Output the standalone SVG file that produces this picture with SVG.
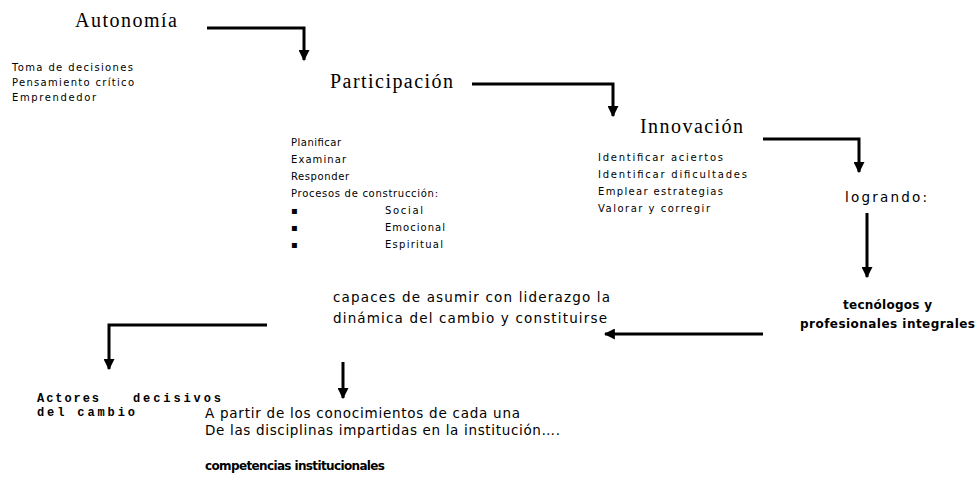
<svg xmlns="http://www.w3.org/2000/svg" width="979" height="490" viewBox="0 0 979 490">
<style>
.h{font-family:"Liberation Serif","Times New Roman",serif;font-size:20px;fill:#000}
.s{font-family:"DejaVu Sans","Noto Sans",sans-serif;font-size:10px;fill:#000}
.m{font-family:"DejaVu Sans","Noto Sans",sans-serif;font-size:13.5px;fill:#000}
.b{font-family:"DejaVu Sans","Noto Sans",sans-serif;font-size:12px;font-weight:bold;fill:#000}
.c{font-family:"Liberation Mono","Courier New",monospace;font-size:12px;font-weight:bold;fill:#000}
.ln{fill:none;stroke:#000;stroke-width:3;marker-end:url(#ah)}
</style>
<defs>
<marker id="ah" viewBox="0 0 10 10" refX="9" refY="5" markerWidth="11" markerHeight="11" markerUnits="userSpaceOnUse" orient="auto">
<path d="M0,0 L10,5 L0,10 z" fill="#000"/>
</marker>
</defs>
<rect width="979" height="490" fill="#fff"/>
<g id="connectors">
<path class="ln" d="M207,28 H304 V60"/>
<path class="ln" d="M472,84 H613 V116"/>
<path class="ln" d="M763,139 H859 V172"/>
<path class="ln" d="M867,213 V277"/>
<path class="ln" d="M763,334 H605"/>
<path class="ln" d="M267,325 H109 V369"/>
<path class="ln" d="M343,362 V398"/>
</g>
<g id="autonomia">
<text class="h" x="75" y="27" textLength="102" lengthAdjust="spacing">Autonomía</text>
<text class="s" x="12" y="71" textLength="121" lengthAdjust="spacing">Toma de decisiones</text>
<text class="s" x="12" y="86" textLength="122" lengthAdjust="spacing">Pensamiento crítico</text>
<text class="s" x="12" y="101" textLength="84" lengthAdjust="spacing">Emprendedor</text>
</g>
<g id="participacion">
<text class="h" x="330" y="88" textLength="123" lengthAdjust="spacing">Participación</text>
<text class="s" x="291" y="146" textLength="50" lengthAdjust="spacing">Planificar</text>
<text class="s" x="291" y="163" textLength="55" lengthAdjust="spacing">Examinar</text>
<text class="s" x="291" y="180" textLength="58" lengthAdjust="spacing">Responder</text>
<text class="s" x="291" y="197" textLength="147" lengthAdjust="spacing">Procesos de construcción:</text>
<text class="s" x="291" y="214">▪</text>
<text class="s" x="291" y="231">▪</text>
<text class="s" x="291" y="248">▪</text>
<text class="s" x="385" y="214" textLength="38" lengthAdjust="spacing">Social</text>
<text class="s" x="385" y="231" textLength="60" lengthAdjust="spacing">Emocional</text>
<text class="s" x="385" y="248" textLength="58" lengthAdjust="spacing">Espiritual</text>
</g>
<g id="innovacion">
<text class="h" x="640" y="133" textLength="103" lengthAdjust="spacing">Innovación</text>
<text class="s" x="598" y="161" textLength="125" lengthAdjust="spacing">Identificar aciertos</text>
<text class="s" x="598" y="178" textLength="149" lengthAdjust="spacing">Identificar dificultades</text>
<text class="s" x="598" y="195" textLength="125" lengthAdjust="spacing">Emplear estrategias</text>
<text class="s" x="598" y="212" textLength="112" lengthAdjust="spacing">Valorar y corregir</text>
</g>
<g id="logrando">
<text class="m" x="845" y="202" textLength="82" lengthAdjust="spacing">logrando:</text>
</g>
<g id="tecnologos">
<text class="b" x="843" y="309" textLength="89" lengthAdjust="spacing">tecnólogos y</text>
<text class="b" x="800" y="328" textLength="175" lengthAdjust="spacing">profesionales integrales</text>
</g>
<g id="capaces">
<text class="m" x="333" y="302" textLength="277" lengthAdjust="spacing">capaces de asumir con liderazgo la</text>
<text class="m" x="333" y="323" textLength="274" lengthAdjust="spacing">dinámica del cambio y constituirse</text>
</g>
<g id="actores">
<text class="c" x="37" y="402"><tspan textLength="62" lengthAdjust="spacing">Actores</tspan><tspan x="133" textLength="88" lengthAdjust="spacing">decisivos</tspan></text>
<text class="c" x="37" y="416" textLength="98" lengthAdjust="spacing">del cambio</text>
</g>
<g id="apartir">
<text class="m" x="205" y="418" textLength="315" lengthAdjust="spacing">A partir de los conocimientos de cada una</text>
<text class="m" x="205" y="435" textLength="355" lengthAdjust="spacing">De las disciplinas impartidas en la institución….</text>
</g>
<g id="competencias">
<text class="b" x="205" y="470" textLength="180" lengthAdjust="spacing">competencias institucionales</text>
</g>
</svg>
